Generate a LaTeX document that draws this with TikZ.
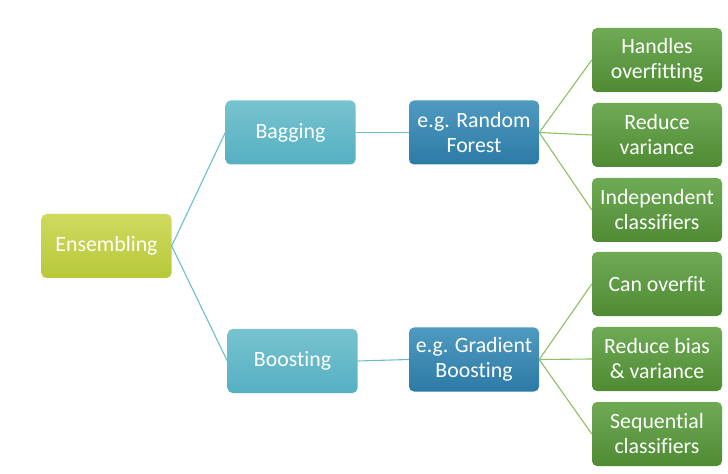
\documentclass[tikz,border=0pt]{standalone}
\usepackage{fontspec}
\setmainfont[Ligatures=CommonOff]{Carlito}
\begin{document}
\begin{tikzpicture}[x=1bp,y=-1bp,
  box/.style={rounded corners=5bp, minimum width=130bp, minimum height=64bp,
    align=center, text=white, inner sep=2bp,
    font=\fontsize{21.8bp}{25bp}\selectfont},
  rootbox/.style={box, top color=ensTop, bottom color=ensBot},
  methodbox/.style={box, top color=bagTop, bottom color=bagBot},
  examplebox/.style={box, top color=exTop, bottom color=exBot},
  propbox/.style={box, top color=propTop, bottom color=propBot},
  tealline/.style={draw=tealLink, line width=1.1bp},
  greenline/.style={draw=greenLink, line width=1.1bp}]
\definecolor{ensTop}{HTML}{CFDA5E}
\definecolor{ensBot}{HTML}{B7C83A}
\definecolor{bagTop}{HTML}{78C3CF}
\definecolor{bagBot}{HTML}{55B0C2}
\definecolor{exTop}{HTML}{4F9AC0}
\definecolor{exBot}{HTML}{2C7AA6}
\definecolor{propTop}{HTML}{6FAA55}
\definecolor{propBot}{HTML}{4E8B33}
\definecolor{tealLink}{HTML}{6CBECE}
\definecolor{greenLink}{HTML}{8CC063}
\useasboundingbox (0,0) rectangle (728,474);

\node[rootbox] (ens) at (106.5,246) {Ensembling};
\node[methodbox] (bag) at (290.5,132.5) {Bagging};
\node[methodbox] (boost) at (292.5,361) {Boosting};
\node[examplebox] (rf) at (474,132.5) {e.g. Random\\Forest};
\node[examplebox] (gb) at (474,359.5) {e.g. Gradient\\Boosting};

\node[propbox] (p1) at (657,60) {Handles\\overfitting};
\node[propbox] (p2) at (657,135) {Reduce\\variance};
\node[propbox] (p3) at (657,210) {Independent\\classifiers};
\node[propbox] (p4) at (657,284) {Can overfit};
\node[propbox] (p5) at (657,359) {Reduce bias\\\& variance};
\node[propbox] (p6) at (657,434) {Sequential\\classifiers};

\draw[tealline] (ens.east) -- (bag.west);
\draw[tealline] (ens.east) -- (boost.west);
\draw[tealline] (bag.east) -- (rf.west);
\draw[tealline] (boost.east) -- (gb.west);

\foreach \p in {p1,p2,p3} \draw[greenline] (rf.east) -- (\p.west);
\foreach \p in {p4,p5,p6} \draw[greenline] (gb.east) -- (\p.west);
\end{tikzpicture}
\end{document}
